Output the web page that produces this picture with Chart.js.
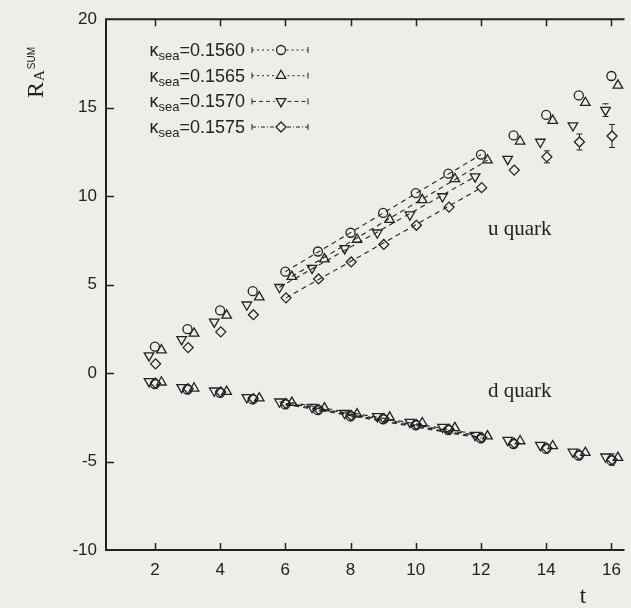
<!DOCTYPE html>
<html>
<head>
<meta charset="utf-8">
<script src="https://cdn.jsdelivr.net/npm/chart.js@4.4.1/dist/chart.umd.min.js"></script>
<style>
  html, body { margin: 0; padding: 0; background: #eeede9; overflow: hidden; }
  #wrap { width: 631px; height: 608px; position: relative; }
  canvas { display: block; }
</style>
</head>
<body>
<div id="wrap"><canvas id="c" width="631" height="608"></canvas></div>
<script>
// ---- data ---------------------------------------------------------------
const tValues = [2, 3, 4, 5, 6, 7, 8, 9, 10, 11, 12, 13, 14, 15, 16];
const kappaLabels = ['0.1560', '0.1565', '0.1570', '0.1575'];

// u quark, R_A^SUM(t) for each kappa_sea
const uK1560 = [1.49, 2.48, 3.54, 4.63, 5.73, 6.87, 7.93, 9.05, 10.17, 11.27, 12.35, 13.43, 14.59, 15.69, 16.79];
const uK1565 = [1.30, 2.24, 3.26, 4.29, 5.45, 6.44, 7.55, 8.67, 9.79, 10.97, 12.03, 13.10, 14.27, 15.28, 16.26];
const uK1570 = [0.99, 1.90, 2.89, 3.86, 4.85, 5.93, 7.05, 7.93, 8.95, 9.98, 11.10, 12.09, 13.06, 13.99, 14.86];
const uK1575 = [0.52, 1.44, 2.33, 3.30, 4.25, 5.32, 6.28, 7.27, 8.35, 9.38, 10.48, 11.47, 12.22, 13.06, 13.40];

const uErr1560 = [0.04, 0.04, 0.05, 0.05, 0.06, 0.07, 0.08, 0.09, 0.10, 0.11, 0.13, 0.15, 0.17, 0.20, 0.24];
const uErr1565 = [0.04, 0.04, 0.05, 0.05, 0.06, 0.07, 0.08, 0.09, 0.10, 0.12, 0.14, 0.16, 0.19, 0.22, 0.26];
const uErr1570 = [0.04, 0.05, 0.05, 0.06, 0.07, 0.08, 0.09, 0.10, 0.12, 0.14, 0.17, 0.20, 0.24, 0.30, 0.36];
const uErr1575 = [0.05, 0.05, 0.06, 0.07, 0.08, 0.09, 0.10, 0.12, 0.14, 0.17, 0.20, 0.26, 0.34, 0.45, 0.65];

// d quark, R_A^SUM(t) for each kappa_sea
const dK1560 = [-0.62, -0.93, -1.12, -1.49, -1.77, -2.10, -2.45, -2.61, -2.95, -3.22, -3.69, -4.01, -4.29, -4.66, -4.94];
const dK1565 = [-0.52, -0.86, -1.05, -1.42, -1.67, -1.98, -2.32, -2.50, -2.82, -3.10, -3.56, -3.84, -4.12, -4.50, -4.78];
const dK1570 = [-0.47, -0.81, -1.00, -1.37, -1.62, -1.93, -2.27, -2.45, -2.77, -3.05, -3.51, -3.79, -4.07, -4.45, -4.73];
const dK1575 = [-0.57, -0.88, -1.07, -1.44, -1.72, -2.05, -2.40, -2.56, -2.90, -3.17, -3.64, -3.96, -4.24, -4.61, -4.89];

const dErr1560 = [0.03, 0.03, 0.04, 0.04, 0.05, 0.05, 0.06, 0.07, 0.08, 0.09, 0.10, 0.12, 0.15, 0.18, 0.22];
const dErr1565 = [0.03, 0.03, 0.04, 0.04, 0.05, 0.05, 0.06, 0.07, 0.08, 0.09, 0.10, 0.12, 0.15, 0.18, 0.22];
const dErr1570 = [0.03, 0.03, 0.04, 0.04, 0.05, 0.05, 0.06, 0.07, 0.08, 0.09, 0.10, 0.12, 0.16, 0.20, 0.26];
const dErr1575 = [0.03, 0.04, 0.04, 0.05, 0.05, 0.06, 0.07, 0.08, 0.09, 0.10, 0.12, 0.15, 0.19, 0.24, 0.32];

// linear fits over the plateau window [start, end]
const fitRange = [6, 12];
const uFit1560 = [5.73, 12.35];
const uFit1565 = [5.45, 12.03];
const uFit1570 = [4.85, 11.10];
const uFit1575 = [4.25, 10.48];
const dFit1560 = [-1.77, -3.69];
const dFit1565 = [-1.67, -3.56];
const dFit1570 = [-1.62, -3.51];
const dFit1575 = [-1.72, -3.64];

const xTicks = [2, 4, 6, 8, 10, 12, 14, 16];
const yTicks = [-10, -5, 0, 5, 10, 15, 20];
const xRange = [0.5, 16.34];
const yRange = [-10, 20];

// ---- styling ------------------------------------------------------------
const ink = '#222222';
const paper = '#eeede9';
const sans = "'Liberation Sans', Arial, sans-serif";
const serif = "'Liberation Serif', 'Times New Roman', serif";

const markerStyles = [
  { pointStyle: 'circle',   rotation: 0,   radius: 4.5, shift: 0,     legendDash: [2, 3] },
  { pointStyle: 'triangle', rotation: 0,   radius: 5.5, shift: 0.2,   legendDash: [2, 3] },
  { pointStyle: 'triangle', rotation: 180, radius: 5.5, shift: -0.18, legendDash: [4, 3] },
  { pointStyle: 'rectRot',  rotation: 0,   radius: 5,   shift: 0.02,  legendDash: [4, 2, 1, 2] }
];

const uSeries = [uK1560, uK1565, uK1570, uK1575];
const uErrors = [uErr1560, uErr1565, uErr1570, uErr1575];
const dSeries = [dK1560, dK1565, dK1570, dK1575];
const dErrors = [dErr1560, dErr1565, dErr1570, dErr1575];
const uFits = [uFit1560, uFit1565, uFit1570, uFit1575];
const dFits = [dFit1560, dFit1565, dFit1570, dFit1575];

const toPoints = (vals, shift) => vals.map((v, i) => ({ x: tValues[i] + shift, y: v }));
const toFit = (ends, shift) => [
  { x: fitRange[0] + shift, y: ends[0] },
  { x: fitRange[1] + shift, y: ends[1] }
];

const datasets = [];
markerStyles.forEach((st, k) => {
  [uFits[k], dFits[k]].forEach(ends => datasets.push({
    data: toFit(ends, st.shift),
    showLine: true, borderColor: ink, borderWidth: 1.1, borderDash: [5, 4],
    pointRadius: 0, clip: false
  }));
  [[uSeries[k], uErrors[k]], [dSeries[k], dErrors[k]]].forEach(([vals, errs]) => datasets.push({
    data: toPoints(vals, st.shift),
    errors: errs,
    showLine: false,
    pointStyle: st.pointStyle,
    pointRotation: st.rotation,
    pointRadius: st.radius,
    pointBorderColor: ink,
    pointBackgroundColor: 'rgba(0,0,0,0)',
    pointBorderWidth: 1.3,
    clip: false
  }));
});

// ---- plugins ------------------------------------------------------------
const paperFill = {
  id: 'paperFill',
  beforeDraw(chart) {
    const { ctx, width, height } = chart;
    ctx.save();
    ctx.fillStyle = paper;
    ctx.fillRect(0, 0, width, height);
    ctx.restore();
  }
};

const errorBars = {
  id: 'errorBars',
  afterDatasetsDraw(chart) {
    const { ctx, scales: { x, y } } = chart;
    ctx.save();
    ctx.strokeStyle = ink;
    ctx.lineWidth = 1;
    chart.data.datasets.forEach(ds => {
      if (!ds.errors) return;
      const r = ds.pointRadius;
      ds.data.forEach((p, i) => {
        const e = ds.errors[i];
        const px = x.getPixelForValue(p.x);
        const py = y.getPixelForValue(p.y);
        const top = y.getPixelForValue(p.y + e);
        const bot = y.getPixelForValue(p.y - e);
        if (py - top <= r + 0.5) return;
        ctx.beginPath();
        ctx.moveTo(px, top); ctx.lineTo(px, py - r);
        ctx.moveTo(px, py + r); ctx.lineTo(px, bot);
        ctx.moveTo(px - 3, top); ctx.lineTo(px + 3, top);
        ctx.moveTo(px - 3, bot); ctx.lineTo(px + 3, bot);
        ctx.stroke();
      });
    });
    ctx.restore();
  }
};

const frame = {
  id: 'frame',
  afterDraw(chart) {
    const { ctx, chartArea: a, scales: { x, y } } = chart;
    ctx.save();
    ctx.strokeStyle = ink;
    ctx.lineWidth = 2;
    ctx.beginPath();
    ctx.moveTo(a.right + 2, a.top); ctx.lineTo(a.left, a.top);
    ctx.lineTo(a.left, a.bottom); ctx.lineTo(a.right + 2, a.bottom);
    ctx.stroke();
    ctx.lineWidth = 1.5;
    ctx.beginPath();
    xTicks.forEach(v => {
      const px = Math.round(x.getPixelForValue(v)) + 0.5;
      ctx.moveTo(px, a.bottom); ctx.lineTo(px, a.bottom - 7);
      ctx.moveTo(px, a.top); ctx.lineTo(px, a.top + 7);
    });
    yTicks.forEach(v => {
      if (v === yRange[0] || v === yRange[1]) return;
      const py = Math.round(y.getPixelForValue(v)) + 0.5;
      ctx.moveTo(a.left, py); ctx.lineTo(a.left + 8, py);
    });
    ctx.stroke();
    ctx.restore();
  }
};

const annotations = {
  id: 'annotations',
  afterDraw(chart) {
    const { ctx } = chart;
    ctx.save();
    ctx.fillStyle = ink;
    ctx.textBaseline = 'alphabetic';

    // quark labels
    ctx.font = `21px ${serif}`;
    ctx.textAlign = 'left';
    ctx.fillText('u quark', 488, 235);
    ctx.fillText('d quark', 488, 397);

    // x-axis title
    ctx.font = `23px ${serif}`;
    ctx.textAlign = 'center';
    ctx.fillText('t', 583, 603);

    // y-axis title R_A^SUM, reading upwards
    ctx.save();
    ctx.translate(43, 98);
    ctx.rotate(-Math.PI / 2);
    ctx.textAlign = 'left';
    ctx.font = `24px ${serif}`;
    ctx.fillText('R', 0, 0);
    const wR = ctx.measureText('R').width;
    ctx.font = `15px ${serif}`;
    ctx.fillText('A', wR + 1, 1);
    const wA = ctx.measureText('A').width;
    ctx.font = `10px ${sans}`;
    ctx.fillText('SUM', wR + wA + 2, -8);
    ctx.restore();

    // legend
    const rowY = [50, 75.7, 101.4, 127];
    markerStyles.forEach((st, k) => {
      const cy = rowY[k];
      const base = cy + 6;
      ctx.fillStyle = ink;
      ctx.textAlign = 'left';
      ctx.font = `18px ${sans}`;
      const tail = '=' + kappaLabels[k];
      const wTail = ctx.measureText(tail).width;
      const wK = ctx.measureText('\u03ba').width;
      ctx.font = `13px ${sans}`;
      const wSea = ctx.measureText('sea').width;
      const xs = 245 - wTail - wSea - wK;
      ctx.font = `18px ${sans}`;
      ctx.fillText('\u03ba', xs, base);
      ctx.font = `13px ${sans}`;
      ctx.fillText('sea', xs + wK, base + 4);
      ctx.font = `18px ${sans}`;
      ctx.fillText(tail, xs + wK + wSea, base);

      // sample: capped dashed line with the marker in the middle
      const x0 = 252, x1 = 308, xm = 281;
      ctx.strokeStyle = ink;
      ctx.lineWidth = 1;
      ctx.setLineDash(st.legendDash);
      ctx.beginPath();
      ctx.moveTo(x0, cy); ctx.lineTo(xm - st.radius - 1, cy);
      ctx.moveTo(xm + st.radius + 1, cy); ctx.lineTo(x1, cy);
      ctx.stroke();
      ctx.setLineDash([]);
      ctx.beginPath();
      ctx.moveTo(x0, cy - 3); ctx.lineTo(x0, cy + 3);
      ctx.moveTo(x1, cy - 3); ctx.lineTo(x1, cy + 3);
      ctx.stroke();
      ctx.lineWidth = 1.3;
      ctx.fillStyle = 'rgba(0,0,0,0)';
      Chart.helpers.drawPoint(ctx, {
        pointStyle: st.pointStyle, rotation: st.rotation,
        radius: st.radius, borderWidth: 1.3
      }, xm, cy);
    });
    ctx.restore();
  }
};

// ---- chart --------------------------------------------------------------
Chart.defaults.font.family = sans;
Chart.defaults.color = ink;

new Chart(document.getElementById('c'), {
  type: 'scatter',
  data: { datasets },
  options: {
    responsive: false,
    animation: false,
    events: [],
    layout: { padding: { top: 13, right: 0, left: 0, bottom: 0 } },
    plugins: { legend: { display: false }, tooltip: { enabled: false } },
    scales: {
      x: {
        type: 'linear', position: 'bottom',
        min: xRange[0], max: xRange[1],
        grid: { display: false, drawTicks: false },
        border: { display: false },
        afterBuildTicks: s => { s.ticks = xTicks.map(v => ({ value: v })); },
        afterFit: s => { s.height = 58; },
        ticks: { font: { size: 17 }, color: ink, padding: 10, maxRotation: 0, callback: v => String(v) }
      },
      y: {
        type: 'linear', position: 'left',
        min: yRange[0], max: yRange[1],
        grid: { display: false, drawTicks: false },
        border: { display: false },
        afterBuildTicks: s => { s.ticks = yTicks.map(v => ({ value: v })); },
        afterFit: s => { s.width = 106; },
        ticks: { font: { size: 17 }, color: ink, padding: 9, callback: v => String(v) }
      }
    }
  },
  plugins: [paperFill, errorBars, frame, annotations]
});
</script>
</body>
</html>
